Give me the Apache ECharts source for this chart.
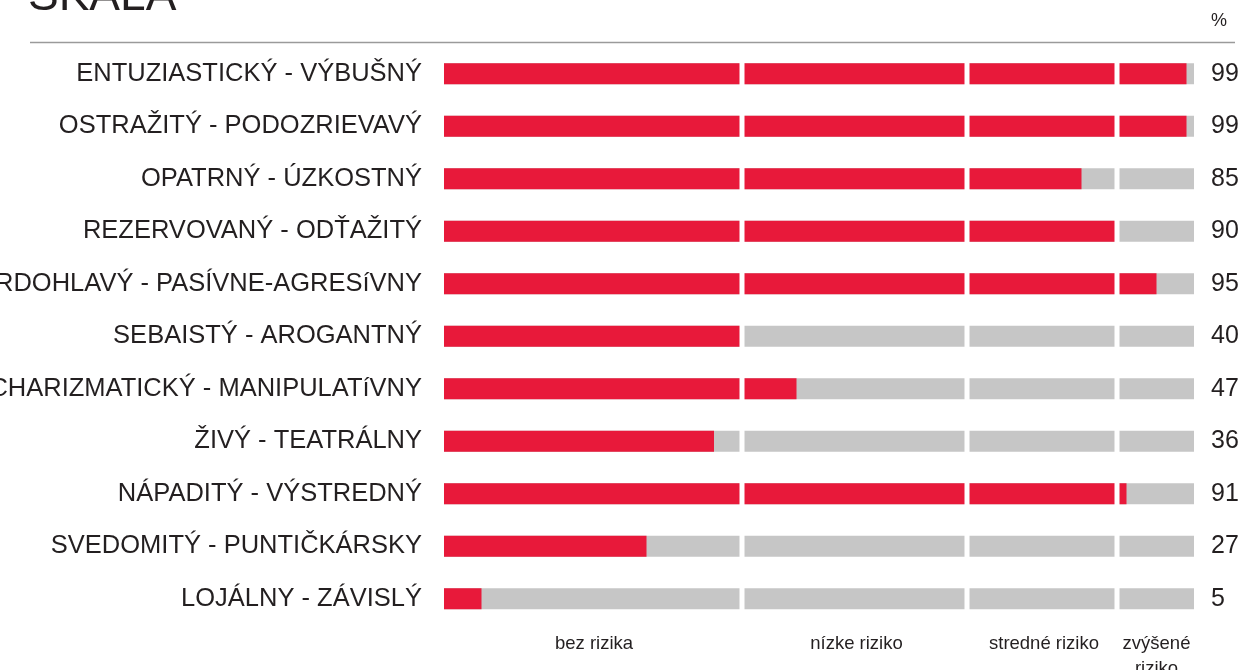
<!DOCTYPE html>
<html>
<head>
<meta charset="utf-8">
<script src="https://cdn.jsdelivr.net/npm/echarts@6/dist/echarts.min.js"></script>
<style>
  html, body { margin: 0; padding: 0; background: #fff; }
  #chart { width: 1241px; height: 670px; }
</style>
</head>
<body>
<div id="chart"></div>
<script>
// riadky škály (zhora nadol)
const scales = [
  'ENTUZIASTICKÝ - VÝBUŠNÝ',
  'OSTRAŽITÝ - PODOZRIEVAVÝ',
  'OPATRNÝ - ÚZKOSTNÝ',
  'REZERVOVANÝ - ODŤAŽITÝ',
  'TVRDOHLAVÝ - PASÍVNE-AGRESíVNY',
  'SEBAISTÝ - AROGANTNÝ',
  'CHARIZMATICKÝ - MANIPULATíVNY',
  'ŽIVÝ - TEATRÁLNY',
  'NÁPADITÝ - VÝSTREDNÝ',
  'SVEDOMITÝ - PUNTIČKÁRSKY',
  'LOJÁLNY - ZÁVISLÝ'
]
const scores = [99, 99, 85, 90, 95, 40, 47, 36, 91, 27, 5]

// hranice pásiem rizika a ich popisy
const bandEdges = [40, 70, 90]
const bandMids = [20, 55, 80, 95]
const bandNames = ['bez rizika', 'nízke riziko', 'stredné riziko', 'zvýšené\nriziko']

const RED = '#e8193a'
const GREY = '#c6c6c6'
const TEXT = '#231f20'
const FONT = '"Liberation Sans", Arial, sans-serif'

const chart = echarts.init(document.getElementById('chart'), null, { renderer: 'canvas' })

const option = {
  animation: false,
  backgroundColor: '#fff',
  textStyle: { fontFamily: FONT },
  grid: {
    left: 444, right: 47, top: 47.5, bottom: 45,
    containLabel: false,
    outerBoundsMode: 'none'  // popisy môžu pretiecť cez okraj ako v origináli
  },
  xAxis: {
    type: 'value',
    min: 0,
    max: 100,
    axisLine: { show: false },
    axisTick: { show: false },
    splitLine: { show: false },
    axisLabel: {
      customValues: bandMids,
      formatter: function (v) { return bandNames[bandMids.indexOf(v)] },
      color: TEXT,
      fontSize: 18.5,
      lineHeight: 25,
      margin: 6,
      verticalAlign: 'top'
    }
  },
  yAxis: [
    {
      type: 'category',
      data: scales,
      inverse: true,
      axisLine: { show: false },
      axisTick: { show: false },
      axisLabel: { color: TEXT, fontSize: 25.5, margin: 22 }
    },
    {
      type: 'category',
      data: scores.map(String),
      inverse: true,
      position: 'right',
      axisLine: { show: false },
      axisTick: { show: false },
      axisLabel: { color: TEXT, fontSize: 25, margin: 17, align: 'left' }
    }
  ],
  series: [
    {
      type: 'bar',
      data: scores,
      barWidth: 21,
      itemStyle: { color: RED },
      showBackground: true,
      backgroundStyle: { color: GREY }
    },
    {
      // biele medzery medzi pásmami
      type: 'custom',
      z: 10,
      silent: true,
      data: bandEdges.map(function (b) { return [b, 0] }),
      renderItem: function (params, api) {
        const cs = params.coordSys
        const x = api.coord([api.value(0), 0])[0]
        return {
          type: 'rect',
          shape: { x: x - 4.5, y: cs.y, width: 5, height: cs.height },
          style: { fill: '#fff' }
        }
      }
    }
  ],
  graphic: [
    {
      type: 'text',
      x: 28,
      y: -3,
      style: { text: 'SKALA', font: '46px ' + FONT, fill: TEXT, verticalAlign: 'middle' }
    },
    {
      type: 'text',
      x: 1211,
      y: 21,
      style: { text: '%', font: '18px ' + FONT, fill: TEXT, verticalAlign: 'middle' }
    },
    {
      type: 'line',
      shape: { x1: 30, y1: 42.5, x2: 1235, y2: 42.5 },
      style: { stroke: '#9a9a9a', lineWidth: 1.3 }
    }
  ]
}

chart.setOption(option)
</script>
</body>
</html>
